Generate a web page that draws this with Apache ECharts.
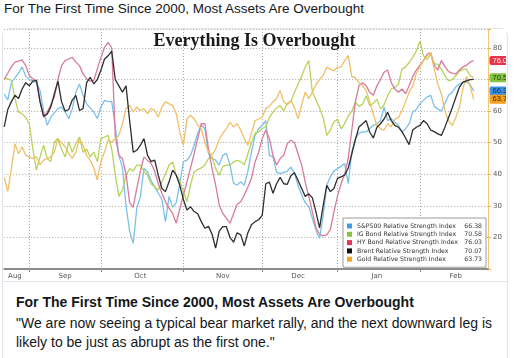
<!DOCTYPE html>
<html><head><meta charset="utf-8">
<script src="https://cdn.jsdelivr.net/npm/echarts/dist/echarts.min.js"></script>
<style>
html,body{margin:0;padding:0;background:#fff;width:516px;height:358px;overflow:hidden;}
#top{position:absolute;left:4px;top:0px;font:13.5px 'Liberation Sans',Arial,sans-serif;color:#14171a;line-height:17px;white-space:nowrap;}
#card{position:absolute;left:2px;top:28px;width:506px;height:340px;border:1px solid #dfe5ea;border-radius:8px;box-sizing:border-box;}
#chart{position:absolute;left:3px;top:29px;width:503px;height:251px;}
#sep{position:absolute;left:3px;top:281px;width:504px;height:1px;background:#dfe5ea;}
#t1{position:absolute;left:16px;top:293px;font:bold 14px 'Liberation Sans',Arial,sans-serif;color:#14171a;line-height:19px;white-space:nowrap;}
#t2{position:absolute;left:16px;top:313.5px;font:14px 'Liberation Sans',Arial,sans-serif;color:#14171a;line-height:19px;white-space:nowrap;}
</style></head>
<body>
<div id="top">For The First Time Since 2000, Most Assets Are Overbought</div>
<div id="card"></div>
<div id="chart"></div>
<div id="sep"></div>
<div id="t1">For The First Time Since 2000, Most Assets Are Overbought</div>
<div id="t2">"We are now seeing a typical bear market rally, and the next downward leg is<br>likely to be just as abrupt as the first one."</div>
<script>
// ---- data ----
const chartTitle = 'Everything Is Overbought';
const monthNames = ['Aug','Sep','Oct','Nov','Dec','Jan','Feb'];
const seriesNames = ['S&P500 Relative Strength Index','IG Bond Relative Strength Index','HY Bond Relative Strength Index','Brent Relative Strength Index','Gold Relative Strength Index'];
const spx = [65.5,63.5,69,70.5,72,74,71,70,69.5,69,66.5,60,55.5,58,59.5,60.7,61.3,59.7,57.6,60.7,66,68.6,65,62.3,61,59.7,57.6,61.3,63.4,63,63,55,46,42,30,22,18.1,29.2,33,41.8,40.8,38,36,34,32,25,33,29.5,31,37,44,44.5,46,49.2,53,55.5,54.4,46.6,45,44.5,42.9,46,46.6,42.9,37.1,36.6,37.6,36.5,41,47,52.3,54.4,55.5,57,46,45.5,40.7,40.2,40.5,41,42.3,40.2,36.5,33.5,31,29.7,26,22.3,19.7,27,36.5,39.2,41,41.8,42.5,43.4,37,47,51.3,53,53.4,53.4,54.5,55.5,56,57,61.3,57,57.6,56.5,55.5,53.4,54.4,56,59.7,60.5,62.3,63.4,64.5,65,61.5,60.7,60,62.5,65,66,67.6,68.6,69,69.2,68.5,66.38];
const igBond = [70.4,70.2,69.7,64,59.7,59.2,58,56,48,41.3,45.5,49.2,45,44,50.2,51.3,48,45.5,50.2,47,49.7,51.8,47,48,45.5,47,44,51.3,51.8,52.3,48,39.7,33,35,39.7,41.8,41,42.9,42.9,41,39.7,37,36,35,37.6,40,42.9,43.9,39.7,38,34.5,31.3,36.6,40.8,41.5,42,42.9,45,45.5,41.8,39.7,42.5,42.9,42.9,43.9,44.4,44,43,46.5,50,53,53.4,54.5,55,58,59.7,61,61.8,60,62.5,63,66,68.5,71,74,76,66,63.5,61,58,52.3,54,56.6,57.5,54.4,56,58.5,60,62.8,61.5,62.2,64.9,61.7,62.5,63.8,60.7,62,64.9,67,67.5,68.5,73.3,74,75.4,77,79,82.2,77.5,76.4,78,75,74.8,73.3,71.2,69.6,70,71.2,72.5,73.3,73.3,71.2,70.58];
const hyBond = [70,72,74,75.5,75.8,76.2,74.4,71.3,70.2,69.7,63,58,59.7,62,64.5,70,74.4,76,76.5,77,75.5,74.4,71.8,70.2,69.5,69.7,73.4,77,80.2,81.8,80,52,46,45,40,31,29.5,35.5,41,45.5,44.4,43.4,41,37,34,31.3,29.2,27.6,24.5,29,33.5,37.6,42,46.5,51.3,56,56,48,41.8,36.6,30.3,27.6,26,24.5,27.5,30.5,31.3,33.4,36,38.7,43.9,47,51.3,54,51.3,46,42.9,45,46,49.7,50.8,50,46.5,42.9,37.5,33,28,23,21,20.5,20.8,22.5,28,33,37,40,45,54,63,68,69,68,66,65,68,70,72.3,73,69,67,66,67,65.5,68,71,73,74.5,76,78,78.5,74.5,73,76,74,72.5,72,71.8,73,74,74.5,75.5,76.03];
const brent = [55,60.5,63,65,64,67,69,68,69.5,69.7,63,58.4,59,61.3,65.5,69.5,63,60,60.5,63.5,65,60.2,60.8,69,70.7,68.6,70,73,76.5,77.5,79,70,68,66,68,57,47,47.6,49.2,51.3,46,44,44.5,39.7,35.5,34.5,37.6,41.3,39.7,36.5,32,28.7,29.7,28.2,27.5,25,22.9,23.5,21,16.6,22,23.4,23.4,20,18.5,21.5,20.8,17.3,21.5,24,25,25.6,27,37,37.5,34,37,39,37,36.8,39.5,40.5,38,35.5,33,33.8,32.5,28,23,30,36.5,34.5,35.5,38.7,39.2,39.7,42,46.5,51,55,56,57,53.3,51.5,54.9,56,57.5,59.6,57,55.5,54.9,53.5,51.5,49.4,54,54.9,55.5,57,56,54,53.5,52.8,52.3,55,58,61,64.3,67.5,69.2,69.6,70,70.07];
const gold = [39,34.5,41.8,49.7,46.5,48.7,46,45.5,45,45.5,43,44.5,45,45.5,47,51.3,50,48.7,46.6,45,47,51.3,49.2,46,44.4,42,38.2,44,47.1,50.8,50.2,51.3,52.3,56,60.8,61.8,59.7,61.3,60.2,60.8,59.2,60.8,60.2,58.1,61.3,62.9,62.3,61.8,59.2,53.4,49.2,57.6,58.7,57.6,55.5,54.4,50,47,46,48,51,53,54.4,56.5,55,56,54,51.3,49.2,53,57,57.5,58.1,60.8,61.5,62.9,64,66.5,62.9,62,63.4,61,57.6,62,66,63.9,66,68.5,70,71.3,73.9,73.3,72.8,73.8,74,76,77.6,71,70.5,69,68,66.5,63,59,55.5,54.4,54,56,55,57.5,58,60,63,66,68,72,74,76,77.5,78.5,73.3,68.5,65.4,60,57,55.4,58,61.2,67,71,68,63.73];

// ---- categories: weekdays ----
function weekdays(start, end){
  const out=[]; const d=new Date(start+'T00:00:00Z'); const e=new Date(end+'T00:00:00Z');
  while(d<=e){const w=d.getUTCDay(); if(w!==0&&w!==6) out.push(d.toISOString().slice(0,10)); d.setUTCDate(d.getUTCDate()+1);}
  return out;
}
const categories = weekdays('2018-08-23','2019-02-28');
const segStarts=[0];
for(let i=1;i<categories.length;i++){ if(categories[i].slice(5,7)!==categories[i-1].slice(5,7)) segStarts.push(i); }
const monthStartSet = new Set(segStarts.slice(1));
const labelMap = new Map();
segStarts.forEach((s,k)=>{ const e = k+1<segStarts.length?segStarts[k+1]:categories.length; labelMap.set(Math.floor((s+e)/2), monthNames[k]); });

const lineColors = ['#7cc0e8','#b6d35c','#d97a9c','#2e2e2e','#efc066'];
const keyColors  = ['#3e9de8','#86c540','#e8335a','#111111','#f5a623'];
const tagColors  = ['#3f8fe2','#84c441','#e8334a',null,'#f3a01f'];
const tagText    = ['#0b2a55','#1d3b06','#ffffff',null,'#4a2500'];
const allData = [spx, igBond, hyBond, brent, gold];
const lastVals = {};
seriesNames.forEach((n,i)=>{ lastVals[n] = allData[i][allData[i].length-1].toFixed(2); });

const FONT = 'Liberation Sans';
const LFONT = 'DejaVu Sans';
const series = seriesNames.map((n,i)=>{
  const d = allData[i];
  const s = {name:n, type:'line', data:d, symbol:'none', smooth:false,
    lineStyle:{color:lineColors[i], width:1.3}, itemStyle:{color:keyColors[i]}, z: (i===3?6:3)};
  if(tagColors[i]){
    const last = d[d.length-1];
    s.markPoint = {symbol:'rect', symbolSize:1, silent:true, itemStyle:{color:'rgba(0,0,0,0)'},
      data:[{coord:[categories[categories.length-1], last], value:last}],
      label:{show:true, position:'right', distance:1, formatter:last.toFixed(2), backgroundColor:tagColors[i],
        color:tagText[i], fontSize:7.5, fontFamily:FONT, padding:[1,2,0,3], borderRadius:2}};
  }
  return s;
});

const chart = echarts.init(document.getElementById('chart'), null, {renderer:'canvas'});
chart.setOption({
  animation:false,
  backgroundColor:'#ffffff',
  title:{text:chartTitle, left:'center', top:3, padding:0, textStyle:{fontFamily:'Liberation Serif', fontWeight:'bold', fontSize:18, color:'#1a1a1a'}},
  grid:{left:1.2, top:-1, width:483.8, height:241, containLabel:false},
  xAxis:{type:'category', data:categories, boundaryGap:false,
    axisLine:{lineStyle:{color:'#8c8c8c', width:2}},
    axisTick:{show:true, interval:(i)=>monthStartSet.has(i), length:3, lineStyle:{color:'#8c8c8c'}},
    axisLabel:{interval:(i)=>labelMap.has(i), formatter:(v,i)=>labelMap.get(i)||'', fontSize:7, color:'#555', margin:4, fontFamily:LFONT},
    splitLine:{show:true, interval:(i)=>monthStartSet.has(i), lineStyle:{color:'#a9a9a9', type:[1,2], width:1}}},
  yAxis:{type:'value', position:'right', min:10, max:86, interval:10,
    axisLine:{show:true, lineStyle:{color:'#f4c77c', width:1}},
    axisTick:{show:true, length:3, lineStyle:{color:'#f0b040'}},
    axisLabel:{formatter:(v)=>(v>=20&&v<=80&&v%10===0)?String(v):'', fontSize:7, color:'#555', margin:5, fontFamily:LFONT},
    splitLine:{show:true, lineStyle:{color:'#a9a9a9', type:[1,2], width:1}}},
  legend:{orient:'vertical', left:340, top:189, padding:[4,4,4,4], itemGap:0.3, itemWidth:5, itemHeight:5, icon:'rect',
    backgroundColor:'#ffffff', borderColor:'#9a9a9a', borderWidth:1,
    data:seriesNames.map((n,i)=>({name:n, itemStyle:{color:keyColors[i]}})),
    formatter:(name)=>'{n|'+name+'}{v|'+lastVals[name]+'}',
    textStyle:{fontSize:6.2, color:'#333', fontFamily:LFONT, lineHeight:8,
      rich:{n:{width:108, fontSize:6.2, fontFamily:LFONT, color:'#333'}, v:{width:17, align:'right', fontSize:6.2, fontFamily:LFONT, color:'#333'}}}},
  series:series
});
</script>
</body></html>
